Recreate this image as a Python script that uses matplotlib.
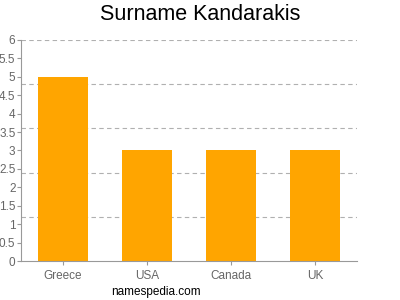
import matplotlib
matplotlib.use("Agg")
import matplotlib.pyplot as plt
import numpy as np

plt.rcParams['font.family'] = ['Liberation Sans', 'DejaVu Sans']

categories = ["Greece", "USA", "Canada", "UK"]
values = [5, 3, 3, 3]
yticks = [0, 0.5, 1, 1.5, 2, 2.5, 3, 3.5, 4, 4.5, 5, 5.5, 6]
ytick_labels = ["0", "0.5", "1", "1.5", "2", "2.5", "3", "3.5", "4", "4.5", "5", "5.5", "6"]
grid_levels = [1.2, 2.4, 3.6, 4.8, 6.0]

fig = plt.figure(figsize=(4, 3), dpi=100)
ax = fig.add_axes([0.0525, 0.13, 0.84, 0.7367])

x = np.arange(len(categories))
for g in grid_levels:
    ax.axhline(g, color="#b0b0b0", linestyle=(0, (4, 3)), linewidth=0.8, zorder=1)
ax.bar(x, values, width=0.6, color="#FFA500", zorder=2)

ax.set_xlim(-0.5, 3.5)
ax.set_ylim(0, 6)
ax.set_yticks(yticks)
ax.set_yticklabels(ytick_labels)
ax.set_xticks(x)
ax.set_xticklabels(categories)

for s in ["top", "right"]:
    ax.spines[s].set_visible(False)
for s in ["left", "bottom"]:
    ax.spines[s].set_color("#999999")
    ax.spines[s].set_linewidth(0.8)
ax.tick_params(axis="both", colors="#999999", labelcolor="#666666", labelsize=8.5, length=3, width=0.8)
ax.tick_params(axis="y", pad=1)

fig.text(0.5, 0.95, "Surname Kandarakis", ha="center", va="center", fontsize=15.5, color="#000000")
fig.text(0.39, 0.027, "namespedia.com", ha="center", va="center", fontsize=8.5, color="#000000")

fig.savefig("out.png", dpi=100)
